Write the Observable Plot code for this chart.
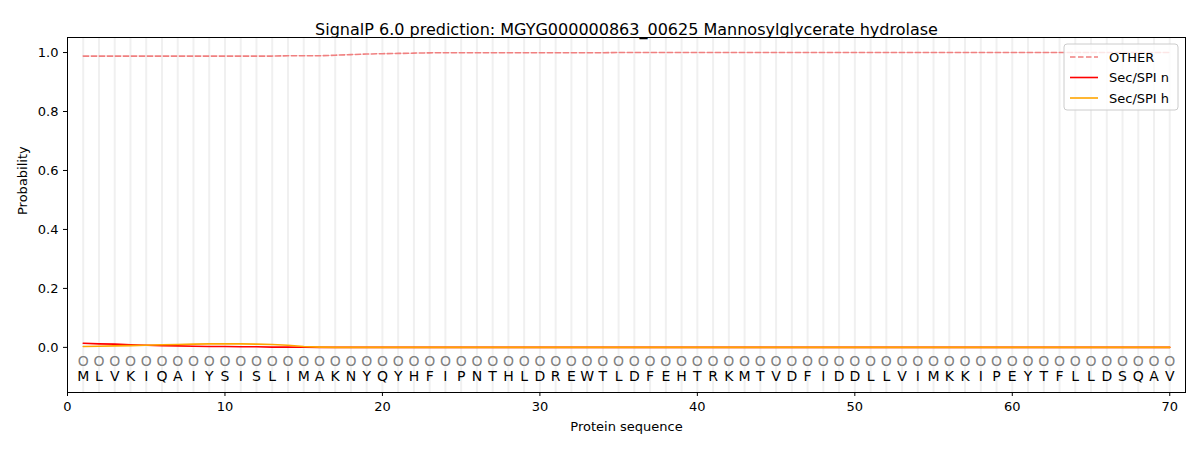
<!DOCTYPE html>
<html><head><meta charset="utf-8">
<script src="https://cdn.jsdelivr.net/npm/d3@7"></script>
<script src="https://cdn.jsdelivr.net/npm/@observablehq/plot@0.6"></script>
<style>body{margin:0;background:#fff;font-family:"DejaVu Sans",sans-serif}</style>
</head><body><div id="chart"></div>
<script>
const title = "SignalP 6.0 prediction: MGYG000000863_00625 Mannosylglycerate hydrolase";
const residues = "MLVKIQAIYSISLIMAKNYQYHFIPNTHLDREWTLDFEHTRKMTVDFIDDLLVIMKKIPEYTFLLDSQAV".split("");
const labels = residues.map(() => "O");
const otherVals = [0.988,0.988,0.988,0.988,0.988,0.988,0.988,0.988,0.988,0.988,0.988,0.988,0.988,0.989,0.989,0.989,0.991,0.993,0.995,0.996,0.997,0.998,0.999,0.9995,0.9995,0.9995,0.9995,0.9995,0.9995,0.9995,0.9995,0.9995,0.9995,0.9995,1,1,1,1,1,1,1,1,1,1,1,1,1,1,1,1,1,1,1,1,1,1,1,1,1,1,1,1,1,1,1,1,1,1,1,1];
const secnVals = [0.014,0.012,0.011,0.009,0.007,0.006,0.005,0.004,0.003,0.003,0.002,0.002,0.001,0.001,0.0005,0,0,0,0,0,0,0,0,0,0,0,0,0,0,0,0,0,0,0,0,0,0,0,0,0,0,0,0,0,0,0,0,0,0,0,0,0,0,0,0,0,0,0,0,0,0,0,0,0,0,0,0,0,0,0];
const sechVals = [0.003,0.004,0.005,0.006,0.007,0.009,0.010,0.011,0.012,0.012,0.012,0.011,0.010,0.007,0.003,0.001,0,0,0,0,0,0,0,0,0,0,0,0,0,0,0,0,0,0,0,0,0,0,0,0,0,0,0,0,0,0,0,0,0,0,0,0,0,0,0,0,0,0,0,0,0,0,0,0,0,0,0,0,0,0];
const xTicks = [0,10,20,30,40,50,60,70];
const yTicks = [0,0.2,0.4,0.6,0.8,1.0];

const pos = residues.map((r,i)=>({i:i+1, aa:r, lab:labels[i], other:otherVals[i], secn:secnVals[i], sech:sechVals[i]}));

const chart = Plot.plot({
  width: 1200, height: 450,
  marginLeft: 67, marginRight: 15, marginTop: 37, marginBottom: 58,
  style: {fontFamily: "DejaVu Sans, sans-serif", fontSize: "13px", background: "#fff"},
  x: {domain: [0, 71], ticks: xTicks, tickFormat: d => d, label: null, tickSize: 4},
  y: {domain: [-0.153, 1.051], ticks: yTicks, tickFormat: d => d.toFixed(1), label: null, tickSize: 4},
  marks: [
    Plot.ruleX(pos, {x: "i", stroke: "#f0f0f0", strokeWidth: 2}),
    Plot.line(pos, {x: "i", y: "other", stroke: "#f08080", strokeWidth: 1.6, strokeDasharray: "5.5,2.5"}),
    Plot.line(pos, {x: "i", y: "secn", stroke: "red", strokeWidth: 1.6}),
    Plot.line(pos, {x: "i", y: "sech", stroke: "orange", strokeWidth: 1.6}),
    Plot.text(pos, {x: "i", y: -0.047, text: "lab", fill: "#808080", fontSize: 14}),
    Plot.text(pos, {x: "i", y: -0.098, text: "aa", fill: "#000", fontSize: 14}),
    Plot.frame({stroke: "#000"}),
    Plot.axisX({ticks: xTicks, tickSize: 4, label: null, fontSize: 13}),
    Plot.axisY({ticks: yTicks, tickSize: 4, tickFormat: d => d.toFixed(1), label: null, fontSize: 13}),
    Plot.text([title], {frameAnchor: "top", dy: -14, text: d => d, fontSize: 16, fill: "#000"}),
    Plot.text(["Protein sequence"], {frameAnchor: "bottom", dy: 38, text: d => d, fontSize: 13, fill: "#000"}),
    Plot.text(["Probability"], {frameAnchor: "left", dx: -45, rotate: -90, text: d => d, fontSize: 13, fill: "#000"})
  ]
});

// legend
const svg = d3.select(chart);
const g = svg.append("g").attr("transform", "translate(1064,44)");
g.append("rect").attr("width", 114).attr("height", 66).attr("rx", 3)
  .attr("fill", "rgba(255,255,255,0.8)").attr("stroke", "#ccc");
const items = [
  {name: "OTHER", color: "#f08080", dash: "5.5,2.5"},
  {name: "Sec/SPI n", color: "red", dash: null},
  {name: "Sec/SPI h", color: "orange", dash: null}
];
items.forEach((d, k) => {
  const y = 13 + k * 20.5;
  g.append("line").attr("x1", 6).attr("x2", 34).attr("y1", y).attr("y2", y)
    .attr("stroke", d.color).attr("stroke-width", 1.6).attr("stroke-dasharray", d.dash);
  g.append("text").attr("x", 45).attr("y", y).attr("dy", "0.35em").attr("text-anchor", "start")
    .attr("font-size", 13).attr("font-family", "DejaVu Sans, sans-serif").attr("fill", "#000").text(d.name);
});
document.getElementById("chart").appendChild(chart);
</script></body></html>
